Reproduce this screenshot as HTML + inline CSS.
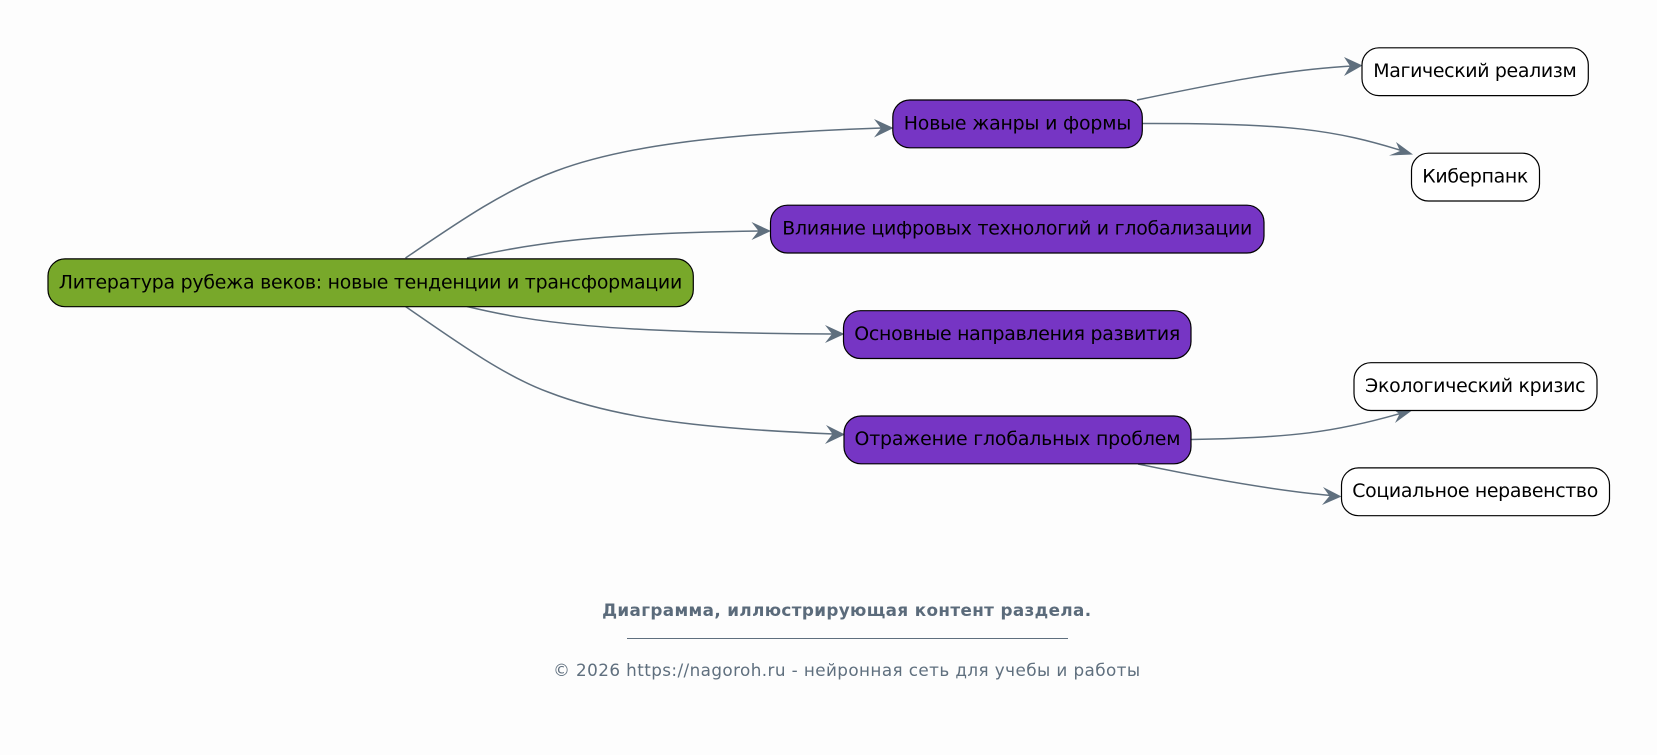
<!DOCTYPE html>
<html lang="ru">
<head>
<meta charset="utf-8">
<title>Диаграмма</title>
<style>
html,body{margin:0;padding:0;background:#fdfdfd;width:1657px;height:755px;overflow:hidden}
svg{display:block}
text{font-family:"DejaVu Sans","Liberation Sans","Noto Sans CJK SC",sans-serif}
.n{font-size:18.9px;fill:#000;text-anchor:middle}
.e{fill:none;stroke:#5f6f7e;stroke-width:1.5}
.a{fill:#5f6f7e}
rect{stroke:#000;stroke-width:1.2}
</style>
</head>
<body>
<svg width="1657" height="755" viewBox="0 0 1657 755" xmlns="http://www.w3.org/2000/svg">
<rect x="0" y="0" width="1657" height="755" fill="#fdfdfd" stroke="none" style="stroke:none"/>

<!-- edges -->
<path class="e" d="M405.5 258 C454 225 504 190 556 171 C620 147 712 134 882 128"/>
<path class="e" d="M467 258 C532 243 602 233 760 231"/>
<path class="e" d="M467 306.5 C532 322 602 333 833 334"/>
<path class="e" d="M405.5 306.5 C454 340 504 376 548 392 C620 420 712 429 834 434"/>
<path class="e" d="M1137 100 C1210 85 1280 70 1352 66"/>
<path class="e" d="M1142 123.5 C1290 123 1335 130 1403 151"/>
<path class="e" d="M1191 439.5 C1290 438 1337 432 1402 413"/>
<path class="e" d="M1138 464 C1210 479 1280 491 1331 495.5"/>

<!-- arrowheads -->
<polygon class="a" points="893.5,128 874,119 881,128.3 874,137.5"/>
<polygon class="a" points="771,231 751.5,222 758.5,231 751.5,240"/>
<polygon class="a" points="844.5,334 825,325 832,334 825,343"/>
<polygon class="a" points="845,434.5 826,425 832.5,434 825,444"/>
<polygon class="a" points="1362.5,65.5 1344,57 1350,66 1344,76"/>
<polygon class="a" points="1413,154.5 1396,142 1400,151 1389,155.5"/>
<polygon class="a" points="1412,410.5 1392,408.5 1399.5,414 1395,423"/>
<polygon class="a" points="1341.5,496.5 1323,487 1329.5,496 1322,505"/>

<!-- nodes -->
<rect x="48" y="258.9" width="645.3" height="47.8" rx="17" ry="17" fill="#78a82a"/>
<text class="n" x="370.5" y="288.4" textLength="623.5" lengthAdjust="spacing">Литература рубежа веков: новые тенденции и трансформации</text>

<rect x="892.8" y="100" width="249.5" height="47.8" rx="17" ry="17" fill="#7635c4"/>
<text class="n" x="1017.5" y="129.4" textLength="227.5" lengthAdjust="spacing">Новые жанры и формы</text>

<rect x="770.5" y="205.2" width="493.5" height="47.8" rx="17" ry="17" fill="#7635c4"/>
<text class="n" x="1017.3" y="234.5" textLength="470" lengthAdjust="spacing">Влияние цифровых технологий и глобализации</text>

<rect x="843.5" y="310.7" width="347.5" height="47.8" rx="17" ry="17" fill="#7635c4"/>
<text class="n" x="1017.3" y="340" textLength="326" lengthAdjust="spacing">Основные направления развития</text>

<rect x="844" y="416" width="347" height="47.8" rx="17" ry="17" fill="#7635c4"/>
<text class="n" x="1017.5" y="445.2" textLength="326" lengthAdjust="spacing">Отражение глобальных проблем</text>

<rect x="1362" y="47.8" width="226.3" height="47.8" rx="17" ry="17" fill="#fff"/>
<text class="n" x="1475" y="77.2" textLength="203.5" lengthAdjust="spacing">Магический реализм</text>

<rect x="1411.5" y="153.2" width="128" height="47.8" rx="17" ry="17" fill="#fff"/>
<text class="n" x="1475.3" y="182.4" textLength="106" lengthAdjust="spacing">Киберпанк</text>

<rect x="1354" y="362.7" width="243" height="47.8" rx="17" ry="17" fill="#fff"/>
<text class="n" x="1475.3" y="392.2" textLength="220.5" lengthAdjust="spacing">Экологический кризис</text>

<rect x="1341.5" y="467.9" width="268" height="47.8" rx="17" ry="17" fill="#fff"/>
<text class="n" x="1475.3" y="497.2" textLength="246" lengthAdjust="spacing">Социальное неравенство</text>

<!-- caption -->
<text x="846.6" y="616" text-anchor="middle" font-size="16.8" font-weight="bold" fill="#5b6b7b" textLength="489" lengthAdjust="spacing">Диаграмма, иллюстрирующая контент раздела.</text>
<rect x="627" y="638" width="441" height="1" fill="#5f6f7e" style="stroke:none"/>
<text x="846.6" y="676" text-anchor="middle" font-size="16.8" fill="#5f6f7e" textLength="587" lengthAdjust="spacing">© 2026 https://nagoroh.ru - нейронная сеть для учебы и работы</text>
</svg>
</body>
</html>
